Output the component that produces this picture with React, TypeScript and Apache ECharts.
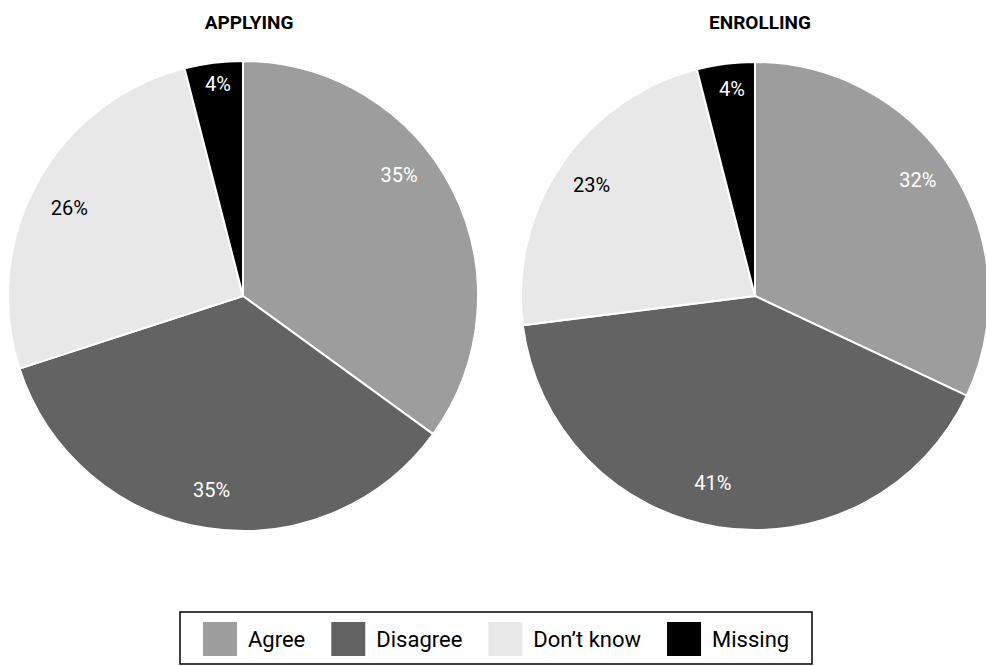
import React, { useEffect, useRef } from "react";
import * as echarts from "echarts";

const categories = ["Agree", "Disagree", "Don\u2019t know", "Missing"];
const applyingValues = [35, 35, 26, 4];
const enrollingValues = [32, 41, 23, 4];
const pieTitles = ["APPLYING", "ENROLLING"];

const sliceColors = ["#9d9d9d", "#636363", "#e8e8e8", "#000000"];
const labelColors = ["#ffffff", "#ffffff", "#000000", "#ffffff"];
// label nudges (padding: top, right, bottom, left)
const applyingPads = [
  [0, 45, 60, 0],
  [0, 0, 8, 0],
  [18, 0, 0, 4],
  [0, 0, 27, 0],
];
const enrollingPads = [
  [0, 12, 18, 0],
  [0, 22, 21, 0],
  [2, 0, 0, 4],
  [0, 0, 17, 4],
];

const labelFont = "Roboto, sans-serif";

function buildPie(values: number[], center: number[], radius: number) {
  return {
    type: "pie",
    center,
    radius,
    startAngle: 90,
    clockwise: true,
    silent: true,
    label: { show: false },
    labelLine: { show: false },
    emphasis: { disabled: true },
    itemStyle: { borderColor: "#ffffff", borderWidth: 2 },
    data: values.map((v, i) => ({
      name: categories[i],
      value: v,
      itemStyle: { color: sliceColors[i] },
    })),
  };
}

function buildLabels(values: number[], center: number[], radius: number, pads: number[][]) {
  return {
    type: "pie",
    center,
    radius: [160, radius],
    startAngle: 90,
    clockwise: true,
    silent: true,
    labelLine: { show: false },
    emphasis: { disabled: true },
    itemStyle: { color: "rgba(0,0,0,0)", borderWidth: 0 },
    label: {
      show: true,
      position: "inside",
      formatter: "{t|{c}%}",
    },
    data: values.map((v, i) => ({
      name: categories[i],
      value: v,
      label: {
        rich: {
          t: {
            color: labelColors[i],
            padding: pads[i],
            fontFamily: labelFont,
            fontSize: 20,
            fontWeight: 400,
          },
        },
      },
    })),
  };
}

export default function App() {
  const ref = useRef<HTMLDivElement>(null);
  useEffect(() => {
    document.body.style.margin = "0";
    if (!ref.current) return;
    const chart = echarts.init(ref.current, null, { renderer: "svg" });
    const leftCenter = [243, 296];
    const rightCenter = [755, 296];
    chart.setOption({
      animation: false,
      backgroundColor: "#ffffff",
      title: pieTitles.map((t, i) => ({
        text: t,
        left: i === 0 ? 244 : 755,
        top: 8,
        textAlign: "center",
        textStyle: {
          fontFamily: labelFont,
          fontWeight: "bold",
          fontSize: 19,
          color: "#000",
        },
      })),
      legend: {
        data: categories,
        left: 201,
        top: 620,
        icon: "rect",
        itemWidth: 36,
        itemHeight: 36,
        itemGap: 24,
        selectedMode: false,
        padding: 0,
        textStyle: {
          fontFamily: "Roboto, sans-serif",
          fontSize: 22,
          color: "#000",
          padding: [0, 0, 0, 5],
        },
      },
      graphic: [
        {
          type: "rect",
          shape: { x: 180, y: 612, width: 632, height: 52 },
          style: { fill: "none", stroke: "#000", lineWidth: 1.5 },
          silent: true,
        },
      ],
      series: [
        buildPie(applyingValues, leftCenter, 235),
        buildPie(enrollingValues, rightCenter, 234),
        buildLabels(applyingValues, leftCenter, 235, applyingPads),
        buildLabels(enrollingValues, rightCenter, 234, enrollingPads),
      ],
    });
    return () => chart.dispose();
  }, []);
  return <div ref={ref} style={{ width: 986, height: 666 }} />;
}
